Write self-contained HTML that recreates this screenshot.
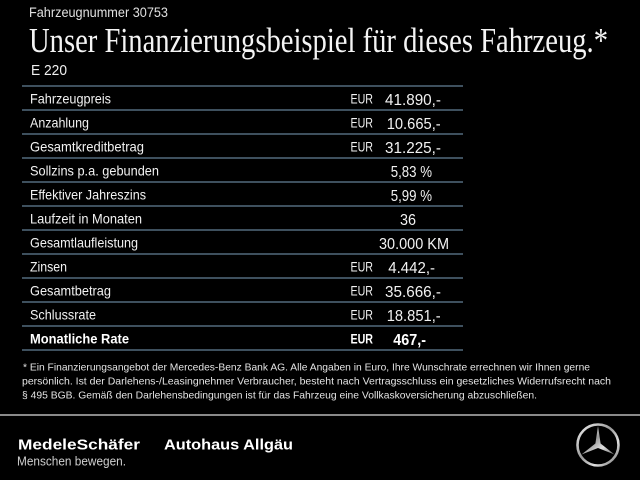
<!DOCTYPE html>
<html>
<head>
<meta charset="utf-8">
<style>
  html,body{margin:0;padding:0;background:#000;}
  body{width:640px;height:480px;overflow:hidden;}
  svg{display:block;}
  .s{font-family:"Liberation Sans",sans-serif;}
  .sf{font-family:"Liberation Serif",serif;}
</style>
</head>
<body>
<svg width="640" height="480" viewBox="0 0 640 480" xmlns="http://www.w3.org/2000/svg">
  <defs>
    <linearGradient id="silver" x1="0" y1="0" x2="1" y2="1">
      <stop offset="0" stop-color="#f2f2f2"/>
      <stop offset="0.45" stop-color="#9a9a9a"/>
      <stop offset="0.7" stop-color="#e0e0e0"/>
      <stop offset="1" stop-color="#6a6a6a"/>
    </linearGradient>
  </defs>
  <rect x="0" y="0" width="640" height="480" fill="#000"/>

  <!-- Header -->
  <text class="s" x="29" y="17" font-size="13.5" fill="#e0e0e0" textLength="139" lengthAdjust="spacingAndGlyphs">Fahrzeugnummer 30753</text>
  <text class="sf" x="29" y="52" font-size="35" fill="#f4f4f4" textLength="579" lengthAdjust="spacingAndGlyphs">Unser Finanzierungsbeispiel für dieses Fahrzeug.*</text>
  <text class="s" x="31" y="75" font-size="15" fill="#f0f0f0" textLength="36" lengthAdjust="spacingAndGlyphs">E 220</text>

  <!-- Table lines -->
  <g stroke="#536a7e" stroke-width="1.6">
    <line x1="22" y1="86" x2="463" y2="86"/>
    <line x1="22" y1="110" x2="463" y2="110"/>
    <line x1="22" y1="134" x2="463" y2="134"/>
    <line x1="22" y1="158" x2="463" y2="158"/>
    <line x1="22" y1="182" x2="463" y2="182"/>
    <line x1="22" y1="206" x2="463" y2="206"/>
    <line x1="22" y1="230" x2="463" y2="230"/>
    <line x1="22" y1="254" x2="463" y2="254"/>
    <line x1="22" y1="278" x2="463" y2="278"/>
    <line x1="22" y1="302" x2="463" y2="302"/>
    <line x1="22" y1="326" x2="463" y2="326"/>
    <line x1="22" y1="350" x2="463" y2="350"/>
  </g>

  <!-- Labels -->
  <g class="s" font-size="14" fill="#f2f2f2">
    <text x="30" y="103.5" textLength="81" lengthAdjust="spacingAndGlyphs">Fahrzeugpreis</text>
    <text x="30" y="127.5" textLength="59" lengthAdjust="spacingAndGlyphs">Anzahlung</text>
    <text x="30" y="151.5" textLength="114" lengthAdjust="spacingAndGlyphs">Gesamtkreditbetrag</text>
    <text x="30" y="175.5" textLength="129" lengthAdjust="spacingAndGlyphs">Sollzins p.a. gebunden</text>
    <text x="30" y="199.5" textLength="116" lengthAdjust="spacingAndGlyphs">Effektiver Jahreszins</text>
    <text x="30" y="223.5" textLength="112" lengthAdjust="spacingAndGlyphs">Laufzeit in Monaten</text>
    <text x="30" y="247.5" textLength="108" lengthAdjust="spacingAndGlyphs">Gesamtlaufleistung</text>
    <text x="30" y="271.5" textLength="37" lengthAdjust="spacingAndGlyphs">Zinsen</text>
    <text x="30" y="295.5" textLength="81" lengthAdjust="spacingAndGlyphs">Gesamtbetrag</text>
    <text x="30" y="319.5" textLength="66" lengthAdjust="spacingAndGlyphs">Schlussrate</text>
    <text x="30" y="343.5" textLength="99" lengthAdjust="spacingAndGlyphs" font-weight="bold" fill="#fff">Monatliche Rate</text>
  </g>

  <!-- EUR -->
  <g class="s" font-size="13.5" fill="#f2f2f2">
    <text x="350.5" y="103.5" textLength="22.5" lengthAdjust="spacingAndGlyphs">EUR</text>
    <text x="350.5" y="127.5" textLength="22.5" lengthAdjust="spacingAndGlyphs">EUR</text>
    <text x="350.5" y="151.5" textLength="22.5" lengthAdjust="spacingAndGlyphs">EUR</text>
    <text x="350.5" y="271.5" textLength="22.5" lengthAdjust="spacingAndGlyphs">EUR</text>
    <text x="350.5" y="295.5" textLength="22.5" lengthAdjust="spacingAndGlyphs">EUR</text>
    <text x="350.5" y="319.5" textLength="22.5" lengthAdjust="spacingAndGlyphs">EUR</text>
    <text x="350.5" y="343.5" textLength="22.5" lengthAdjust="spacingAndGlyphs" font-weight="bold" fill="#fff">EUR</text>
  </g>

  <!-- Values -->
  <g class="s" font-size="15.5" fill="#f2f2f2">
    <text x="385" y="105" textLength="56" lengthAdjust="spacingAndGlyphs">41.890,-</text>
    <text x="386.7" y="129" textLength="54" lengthAdjust="spacingAndGlyphs">10.665,-</text>
    <text x="385" y="153" textLength="56" lengthAdjust="spacingAndGlyphs">31.225,-</text>
    <text x="390.7" y="177" textLength="41.3" lengthAdjust="spacingAndGlyphs">5,83 %</text>
    <text x="390.7" y="201" textLength="41.3" lengthAdjust="spacingAndGlyphs">5,99 %</text>
    <text x="400" y="225" textLength="16" lengthAdjust="spacingAndGlyphs">36</text>
    <text x="379" y="249" textLength="70" lengthAdjust="spacingAndGlyphs">30.000 KM</text>
    <text x="388.3" y="273" textLength="46.7" lengthAdjust="spacingAndGlyphs">4.442,-</text>
    <text x="385" y="297" textLength="56" lengthAdjust="spacingAndGlyphs">35.666,-</text>
    <text x="386.7" y="321" textLength="54" lengthAdjust="spacingAndGlyphs">18.851,-</text>
    <text x="393.3" y="345" textLength="32.7" lengthAdjust="spacingAndGlyphs" font-weight="bold" fill="#fff">467,-</text>
  </g>

  <!-- Footnote -->
  <g class="s" font-size="10.5" fill="#e4e4e4">
    <text x="23" y="370.5" textLength="567" lengthAdjust="spacingAndGlyphs">* Ein Finanzierungsangebot der Mercedes-Benz Bank AG. Alle Angaben in Euro, Ihre Wunschrate errechnen wir Ihnen gerne</text>
    <text x="22" y="384.5" textLength="589" lengthAdjust="spacingAndGlyphs">persönlich. Ist der Darlehens-/Leasingnehmer Verbraucher, besteht nach Vertragsschluss ein gesetzliches Widerrufsrecht nach</text>
    <text x="22" y="398.5" textLength="515" lengthAdjust="spacingAndGlyphs">§ 495 BGB. Gemäß den Darlehensbedingungen ist für das Fahrzeug eine Vollkaskoversicherung abzuschließen.</text>
  </g>

  <!-- Divider -->
  <rect x="0" y="414" width="640" height="2" fill="#8a8a8a"/>

  <!-- Logos -->
  <text class="s" x="18" y="449.5" font-size="15" font-weight="bold" fill="#fff" textLength="122" lengthAdjust="spacingAndGlyphs">MedeleSchäfer</text>
  <text class="s" x="164" y="449.5" font-size="15" font-weight="bold" fill="#fff" textLength="129" lengthAdjust="spacingAndGlyphs">Autohaus Allgäu</text>
  <text class="s" x="17" y="465.5" font-size="12.5" fill="#cfcfcf" textLength="109" lengthAdjust="spacingAndGlyphs">Menschen bewegen.</text>

  <!-- Mercedes star -->
  <circle cx="598" cy="445" r="20.5" fill="none" stroke="url(#silver)" stroke-width="2.6"/>
  <polygon fill="url(#silver)" points="598,426 600.6,443.5 614.5,454.5 598,448 581.5,454.5 595.4,443.5"/>
</svg>
</body>
</html>
